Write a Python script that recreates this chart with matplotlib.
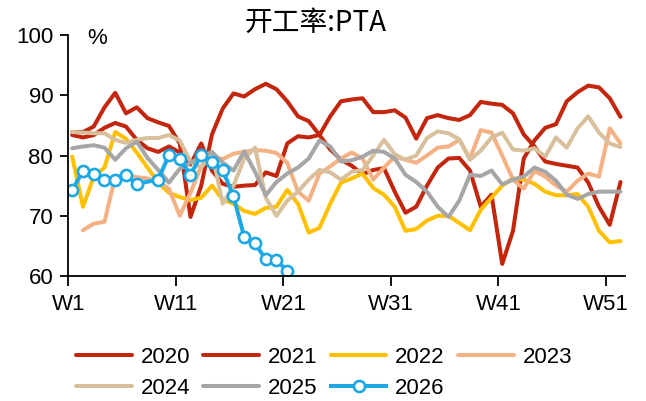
import numpy as np
import matplotlib
matplotlib.use("Agg")
import matplotlib.pyplot as plt

plt.rcParams['font.family'] = ['Liberation Sans', 'Noto Sans CJK SC', 'DejaVu Sans']

# ---- data ----
weeks = np.arange(1, 53)
week_offset = 0.35  # samples fall slightly after the week tick
weeks_2026 = np.array([1, 2, 3, 4, 5, 6, 7, 9, 10, 11, 12, 13, 14, 15, 16, 17, 18, 19, 20, 21])

y2020 = [83.4, 83.0, 83.4, 84.6, 85.4, 84.8, 82.6, 81.2, 80.6, 81.5,
         80.5, 78.5, 82.0, 77.5, 75.3, 74.8, 75.0, 75.1, 77.2, 76.6,
         82.0, 83.2, 83.0, 83.4, 81.0, 79.3, 78.3, 76.9, 77.6, 77.9,
         74.0, 70.5, 71.5, 75.0, 78.0, 79.5, 79.6, 77.5, 71.5, 73.5,
         62.0, 67.5, 79.5, 82.5, 84.6, 85.2, 89.0, 90.5, 91.6, 91.3,
         89.5, 86.4]
y2021 = [83.9, 83.9, 84.8, 88.0, 90.4, 87.0, 88.0, 86.2, 85.5, 84.9,
         82.0, 69.8, 75.0, 83.5, 87.8, 90.3, 89.8, 91.0, 91.9, 91.0,
         89.0, 86.5, 85.7, 83.4, 86.5, 89.0, 89.3, 89.5, 87.2, 87.2,
         87.5, 86.3, 82.8, 86.2, 86.7, 86.2, 85.9, 86.7, 88.9, 88.6,
         88.4, 87.0, 83.5, 81.5, 79.0, 78.6, 78.3, 78.0, 75.5, 71.5,
         68.5, 75.6]
y2022 = [79.8, 71.5, 76.5, 78.0, 83.9, 82.8, 80.5, 78.0, 75.5, 73.8,
         73.1, 72.6, 73.0, 75.0, 72.7, 72.0, 70.8, 70.3, 71.3, 71.5,
         74.3, 72.0, 67.2, 68.0, 72.0, 75.5, 76.2, 77.0, 74.6, 73.5,
         71.5, 67.5, 67.8, 69.2, 70.0, 70.0, 68.8, 67.6, 71.0, 73.0,
         75.0, 76.2, 76.0, 75.3, 74.0, 73.4, 73.4, 73.6, 71.5, 67.5,
         65.6, 65.8]
y2023 = [np.nan, 67.6, 68.7, 69.0, 76.5, 76.8, 76.4, 76.2, 75.6, 74.5,
         70.0, 73.8, 78.3, 79.8, 79.4, 80.3, 80.6, 80.9, 80.8, 80.4,
         78.8, 74.0, 72.5, 77.0, 78.2, 79.5, 80.5, 79.5, 76.0, 78.0,
         79.8, 79.3, 78.8, 80.0, 81.3, 81.5, 82.6, 79.5, 84.2, 83.8,
         80.0, 76.0, 74.5, 77.4, 76.5, 75.0, 74.0, 75.8, 77.0, 76.5,
         84.5, 82.0]
y2024 = [83.9, 83.8, 83.7, 83.7, 82.6, 82.1, 82.6, 82.9, 82.9, 83.4,
         82.5, 79.0, 78.0, 80.5, 72.0, 75.0, 79.5, 81.3, 73.0, 70.0,
         72.5, 74.0, 76.0, 77.6, 77.2, 76.0, 77.3, 77.6, 80.0, 82.6,
         80.2, 79.3, 80.0, 82.9, 84.0, 83.7, 82.7, 79.3, 80.8, 83.0,
         83.8, 81.0, 80.8, 81.2, 79.8, 83.0, 81.3, 84.5, 86.5, 83.8,
         82.0, 81.4]
y2025 = [81.2, 81.5, 81.7, 81.3, 79.3, 81.2, 82.3, 79.6, 77.6, 75.5,
         77.8, 78.8, 79.8, 80.6, 78.8, 77.5, 80.7, 77.3, 73.4, 75.6,
         77.0, 78.0, 79.5, 82.5, 81.5, 79.0, 79.2, 79.8, 80.8, 80.6,
         79.5, 76.8, 75.6, 74.0, 71.5, 69.8, 72.5, 76.8, 76.6, 77.5,
         75.2, 76.0, 76.5, 78.0, 77.3, 75.8, 73.5, 72.8, 73.6, 74.0,
         74.0, 74.0]
y2026 = [74.3, 77.4, 76.9, 75.9, 75.9, 76.7, 75.3, 76.0, 80.1, 79.4,
         76.8, 80.1, 79.0, 77.6, 73.2, 66.5, 65.4, 62.8, 62.7, 60.8]

tick_weeks = [1, 11, 21, 31, 41, 51]
tick_labels = ['W1', 'W11', 'W21', 'W31', 'W41', 'W51']
y_ticks = [60, 70, 80, 90, 100]

series = [
    ('2020', y2020, '#C3260C'),
    ('2021', y2021, '#C3260C'),
    ('2022', y2022, '#FFC000'),
    ('2023', y2023, '#F4B183'),
    ('2024', y2024, '#D9C09D'),
    ('2025', y2025, '#A6A6A6'),
]

# ---- figure ----
fig = plt.figure(figsize=(6.46, 4.01), dpi=100)
ax = fig.add_axes([0.106, 0.3117, 0.8615, 0.601])

lw = 2.9
handles = {}
for name, vals, col in series:
    h, = ax.plot(weeks + week_offset, vals, color=col, lw=lw, label=name,
                 solid_joinstyle='round', solid_capstyle='round')
    handles[name] = h
h, = ax.plot(weeks_2026 + week_offset, y2026, color='#1BA8E4', lw=lw, label='2026',
             marker='o', markersize=8, markerfacecolor='white',
             markeredgecolor='#1BA8E4', markeredgewidth=1.9)
handles['2026'] = h

ax.set_xlim(1, 52.77)
ax.set_ylim(60, 100)
ax.set_xticks(tick_weeks)
ax.set_xticklabels(tick_labels)
ax.set_yticks(y_ticks)
ax.tick_params(axis='both', labelsize=16, color='black', width=1.3)
ax.tick_params(axis='y', length=6, pad=5)
ax.tick_params(axis='x', length=7, pad=6)
for s in ['top', 'right']:
    ax.spines[s].set_visible(False)
for s in ['left', 'bottom']:
    ax.spines[s].set_linewidth(1.3)

ax.text(0.052, 0.985, '%', transform=ax.transAxes, fontsize=16,
        ha='center', va='center')
fig.text(0.489, 0.944, '开工率:PTA', fontsize=20, ha='center', va='center',
         family=['Noto Sans CJK SC', 'Liberation Sans'])

# row-major legend order (matplotlib fills columns first)
order = ['2020', '2024', '2021', '2025', '2022', '2026', '2023']
leg = fig.legend([handles[k] for k in order], order,
                 loc='upper left', bbox_to_anchor=(0.087, 0.184), ncol=4,
                 frameon=False, fontsize=16, handlelength=2.5,
                 columnspacing=0.6, handletextpad=0.4, labelspacing=0.45,
                 borderpad=0.4)

fig.savefig('out.png', dpi=100)
